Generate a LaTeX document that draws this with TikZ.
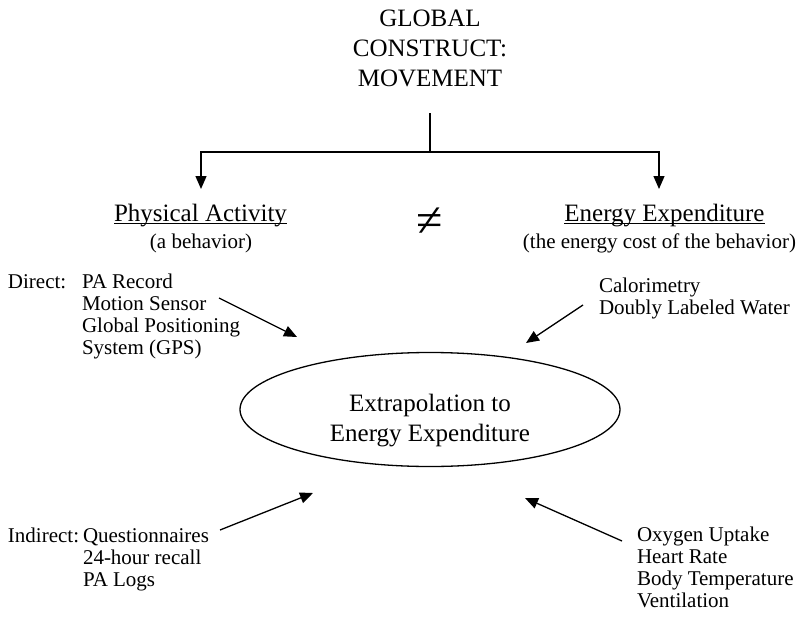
\documentclass[tikz,border=0pt]{standalone}
\usepackage{fontspec}
\setmainfont{Liberation Serif}
\usetikzlibrary{shapes.geometric,arrows.meta}
\newcommand\biglist[1]{\begin{tabular}[t]{@{}c@{}}#1\end{tabular}}
\newcommand\smlist[1]{\begin{tabular}[t]{@{}l@{}}#1\end{tabular}}
\tikzset{
  bigtext/.style={inner sep=0pt, outer sep=0pt, font=\fontsize{25}{30}\selectfont},
  smalltext/.style={inner sep=0pt, outer sep=0pt, font=\fontsize{21}{22}\selectfont},
  conn/.style={line width=1.3pt, draw=black},
  arr/.style={conn, -{Triangle[length=13pt,width=11pt]}},
  uline/.style={line width=1.1pt}
}
\begin{document}
\begin{tikzpicture}[x=1pt,y=-1pt]
\useasboundingbox (0,0) rectangle (801,621);
% title
\node[bigtext, anchor=base] (title) at (430,26) {\biglist{GLOBAL\\CONSTRUCT:\\MOVEMENT}};
\coordinate (top) at (430,113);
\coordinate (split) at (430,152);
\coordinate (ltip) at (201,189);
\coordinate (rtip) at (659,189);
\draw[conn] (top) -- (split);
\draw[arr] (split) -| (ltip);
\draw[arr] (split) -| (rtip);
% headings
\node[bigtext, anchor=base] (pa) at (200.5,221) {Physical Activity};
\node[smalltext, anchor=base] (pab) at (201,248) {(a behavior)};
\node[bigtext, anchor=base] (ee) at (664.5,221) {Energy Expenditure};
\node[smalltext, anchor=base] (eeb) at (659.5,248) {(the energy cost of the behavior)};
\draw[uline] ([yshift=-2.5pt]pa.base west) -- ([yshift=-2.5pt]pa.base east);
\draw[uline] ([yshift=-2.5pt]ee.base west) -- ([yshift=-2.5pt]ee.base east);
\node[inner sep=0pt, font=\fontsize{48}{48}\selectfont] (ne) at (430,222) {≠};
% lists
\node[smalltext, anchor=base west] (dlab) at (8,288) {Direct:};
\node[smalltext, anchor=base west] (dlist) at (82,288) {\smlist{PA Record\\Motion Sensor\\Global Positioning\\System (GPS)}};
\node[smalltext, anchor=base west] (clist) at (599,292) {\smlist{Calorimetry\\Doubly Labeled Water}};
\node[smalltext, anchor=base west] (ilab) at (8,542) {Indirect:};
\node[smalltext, anchor=base west] (ilist) at (83,542) {\smlist{Questionnaires\\24-hour recall\\PA Logs}};
\node[smalltext, anchor=base west] (olist) at (637,541) {\smlist{Oxygen Uptake\\Heart Rate\\Body Temperature\\Ventilation}};
% ellipse
\node[draw, ellipse, line width=1.3pt, minimum width=380pt, minimum height=114pt] (ell) at (430,409.5) {};
\node[bigtext, anchor=base] (elt) at (430,411) {\biglist{Extrapolation to\\Energy Expenditure}};
% arrows
\coordinate (a1s) at (219,298); \coordinate (a1e) at (297,337);
\coordinate (a2s) at (583,305); \coordinate (a2e) at (526,343);
\coordinate (a3s) at (220,530); \coordinate (a3e) at (313,493);
\coordinate (a4s) at (622,541); \coordinate (a4e) at (525,498);
\draw[arr] (a1s) -- (a1e);
\draw[arr] (a2s) -- (a2e);
\draw[arr] (a3s) -- (a3e);
\draw[arr] (a4s) -- (a4e);
\end{tikzpicture}
\end{document}
